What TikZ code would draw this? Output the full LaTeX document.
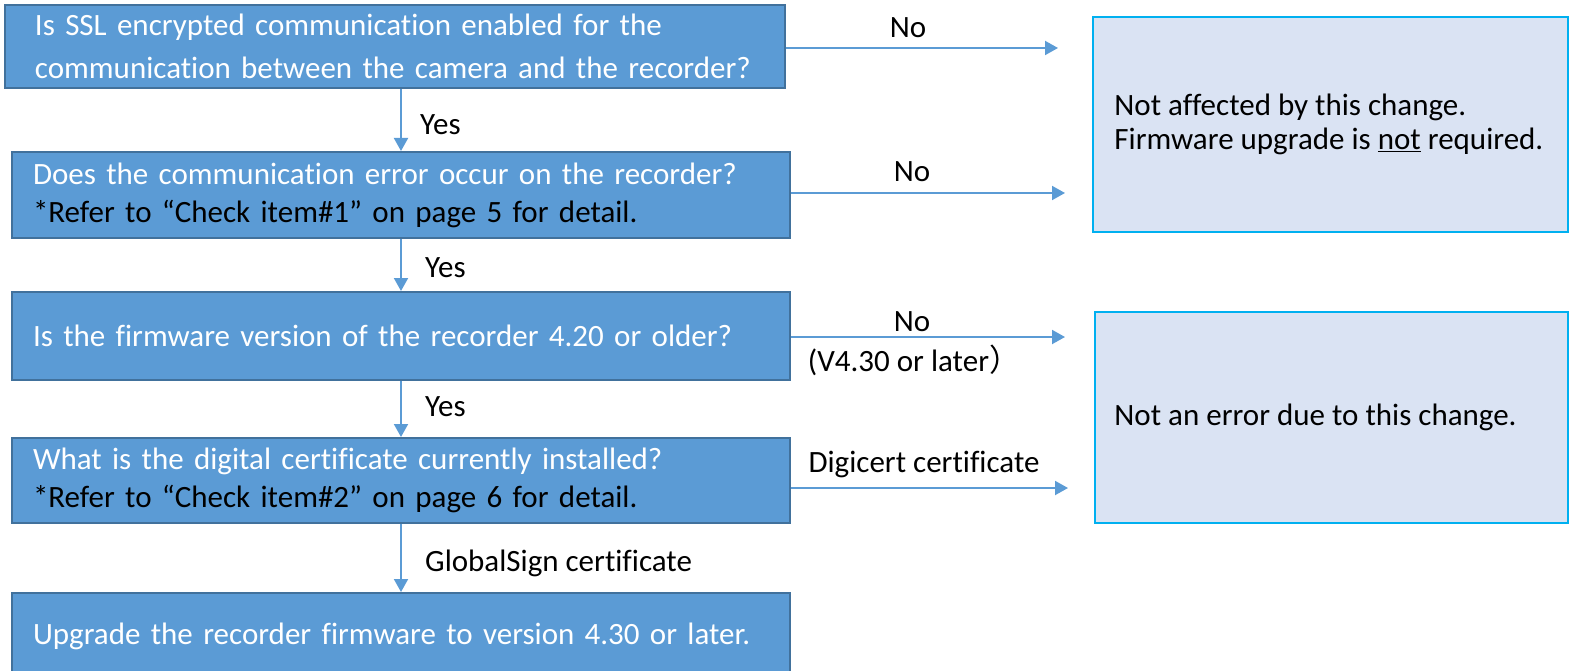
\documentclass[tikz,border=0pt]{standalone}
\usepackage{fontspec}
\setmainfont{Carlito}[Ligatures=NoCommon]
\newfontfamily\cjk{Noto Sans CJK JP}
\usetikzlibrary{arrows.meta}
\definecolor{qfill}{HTML}{5B9BD5}
\definecolor{qdraw}{HTML}{41719C}
\definecolor{afill}{HTML}{DAE3F3}
\definecolor{adraw}{HTML}{00B0F0}
\tikzset{
  qbox/.style={draw=qdraw, fill=qfill, line width=2pt, rectangle, align=left, text=white,
    font=\fontsize{31}{43}\selectfont, inner ysep=0pt},
  abox/.style={draw=adraw, fill=afill, line width=1.5pt, rectangle},
  atext/.style={align=left, text=black, font=\fontsize{31}{34}\selectfont, inner sep=0pt, anchor=west},
  arr/.style={draw=qfill, line width=2pt, -{Triangle[length=13pt,width=14pt]}},
  lbl/.style={font=\fontsize{31}{34}\selectfont, text=black, inner sep=0pt},
}
\begin{document}
\begin{tikzpicture}[x=1pt,y=-1pt]
\useasboundingbox (0,0) rectangle (1571,671);
% question boxes
\node[qbox, minimum height=83pt, text width=730pt, inner xsep=25pt] (b1) at (395,46.5)
  {\hspace{5pt}Is SSL encrypted communication enabled for the\\\hspace{5pt}communication between the camera and the recorder?};
\node[qbox, minimum height=86pt, text width=740pt, inner xsep=19pt, font=\fontsize{31}{38}\selectfont] (b2) at (401,195)
  {\hspace{2pt}Does the communication error occur on the recorder?\\\hspace{2pt}\textcolor{black}{*Refer to “Check item\#1” on page 5 for detail.}};
\node[qbox, minimum height=88pt, text width=740pt, inner xsep=19pt] (b3) at (401,336)
  {\hspace{2pt}Is the firmware version of the recorder 4.20 or older?};
\node[qbox, minimum height=85pt, text width=740pt, inner xsep=19pt, font=\fontsize{31}{38}\selectfont] (b4) at (401,480.5)
  {\hspace{2pt}What is the digital certificate currently installed?\\\hspace{2pt}\textcolor{black}{*Refer to “Check item\#2” on page 6 for detail.}};
\node[qbox, minimum height=86pt, text width=740pt, inner xsep=19pt, anchor=north] (b5) at (401,592)
  {\hspace{2pt}Upgrade the recorder firmware to version 4.30 or later.};
% answer boxes
\node[abox, minimum width=475pt, minimum height=215pt] (r1) at (1330.5,124.5) {};
\node[atext] (t1) at ([xshift=22pt]r1.west)
  {Not affected by this change.\\Firmware upgrade is \underline{not} required.};
\node[abox, minimum width=473pt, minimum height=211pt] (r2) at (1331.5,417.5) {};
\node[atext] (t2) at ([xshift=20pt]r2.west) {Not an error due to this change.};
% arrow end points
\coordinate (e1) at (1058,48);
\coordinate (e2) at (1065,193);
\coordinate (e3) at (1065,337);
\coordinate (e4) at (1068,488);
% horizontal arrows
\draw[arr] (b1.east |- e1) -- (e1);
\node[lbl] at (908,28) {No};
\draw[arr] (b2.east |- e2) -- (e2);
\node[lbl] at (912,172) {No};
\draw[arr] (b3.east |- e3) -- (e3);
\node[lbl] at (912,322) {No};
\node[lbl] at (914,360) {(V4.30 or later\cjk{）}};
\draw[arr] (b4.east |- e4) -- (e4);
\node[lbl] at (924,464) {Digicert certificate};
% vertical arrows
\draw[arr] (b2.north |- b1.south) -- (b2.north);
\node[lbl, anchor=west] at (420,125) {Yes};
\draw[arr] (b2.south) -- (b3.north);
\node[lbl, anchor=west] at (425,268) {Yes};
\draw[arr] (b3.south) -- (b4.north);
\node[lbl, anchor=west] at (425,407) {Yes};
\draw[arr] (b4.south) -- (b5.north);
\node[lbl, anchor=west] at (425,563) {GlobalSign certificate};
\end{tikzpicture}
\end{document}
